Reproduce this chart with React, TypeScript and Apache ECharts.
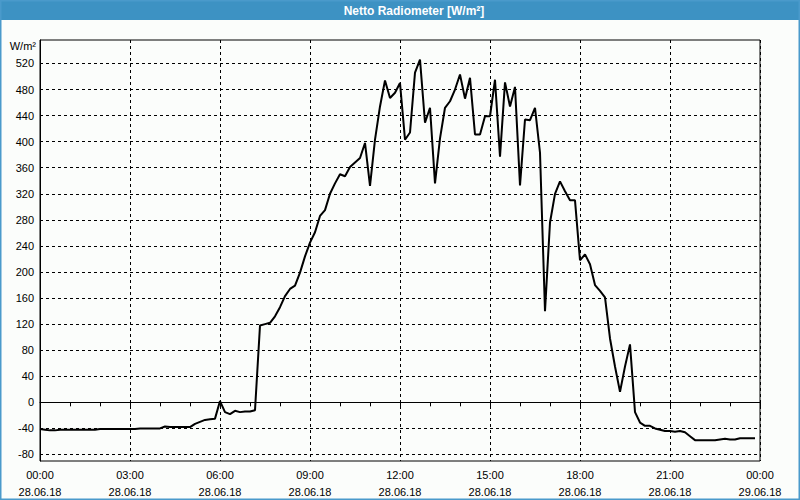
import React, { useEffect, useRef } from "react";
import * as echarts from "echarts";

const TITLE = "Netto Radiometer [W/m²]";
const UNIT = "W/m²";
const SAMPLE_STEP_MIN = 10;

// Net radiation, W/m², one value every 10 minutes from 28.06.18 00:00 to 23:50
const netRadiation = [
  -41, -42, -43, -43, -42, -42, -42, -42, -42, -42, -42, -42,
  -41, -41, -41, -41, -41, -41, -41, -41, -40, -40, -40, -40,
  -40, -37, -38, -38, -38, -38, -38, -33, -30, -27, -26, -25,
  2, -15, -18, -13, -15, -14, -14, -12, 118, 120, 122, 132,
  146, 163, 174, 179, 199, 224, 245, 261, 286, 295, 320, 336,
  350, 347, 361, 368, 375, 398, 332, 403, 454, 494, 467, 475,
  490, 403, 414, 506, 526, 429, 452, 336, 405, 452, 462, 480,
  503, 466, 498, 411, 411, 439, 439, 495, 377, 491, 454, 484,
  333, 434, 433, 452, 383, 140, 276, 320, 339, 324, 310, 310,
  218, 227, 212, 180, 171, 161, 98, 55, 16, 55, 89, -15,
  -31, -36, -36, -40, -42, -44, -44, -45, -44, -46, -52, -58,
  -58, -58, -58, -58, -57, -56, -57, -57, -55, -55, -55, -55,
];

const timeLabels = ["00:00", "03:00", "06:00", "09:00", "12:00", "15:00", "18:00", "21:00", "00:00"];
const dateLabels = ["28.06.18", "28.06.18", "28.06.18", "28.06.18", "28.06.18", "28.06.18", "28.06.18", "28.06.18", "29.06.18"];
const yTickValues = [-80, -40, 0, 40, 80, 120, 160, 200, 240, 280, 320, 360, 400, 440, 480, 520];

const FONT = "Liberation Sans";

export default function App() {
  const ref = useRef<HTMLDivElement>(null);
  useEffect(() => {
    const chart = echarts.init(ref.current!, null, { renderer: "svg" });
    const data = netRadiation.map((v, i) => [(i * SAMPLE_STEP_MIN) / 60, v]);
    chart.setOption({
      animation: false,
      backgroundColor: "#fbfdfb",
      textStyle: { fontFamily: FONT },
      grid: {
        left: 40,
        right: 40,
        top: 40,
        bottom: 38,
        show: true,
        borderColor: "#000",
        borderWidth: 1,
        backgroundColor: "transparent",
      },
      xAxis: {
        type: "value",
        min: 0,
        max: 24,
        interval: 3,
        axisLine: { show: true, lineStyle: { color: "#000", width: 1 } },
        axisTick: { show: true, length: 4, lineStyle: { color: "#000" } },
        minorTick: { show: true, splitNumber: 3, length: 4, lineStyle: { color: "#000" } },
        splitLine: { show: true, lineStyle: { color: "#000", type: [3, 3], width: 1 } },
        axisLabel: {
          fontSize: 11,
          color: "#000",
          fontFamily: FONT,
          lineHeight: 17,
          margin: 5,
          showMinLabel: true,
          showMaxLabel: true,
          formatter: (v: number) => {
            const k = Math.round(v / 3);
            return `${timeLabels[k]}\n${dateLabels[k]}`;
          },
        },
      },
      yAxis: {
        type: "value",
        min: -90,
        max: 556,
        axisLine: { show: true, lineStyle: { color: "#000", width: 1 } },
        axisTick: { show: false, customValues: yTickValues },
        splitLine: { show: true, lineStyle: { color: "#000", type: [3, 3], width: 1 } },
        axisLabel: {
          customValues: yTickValues,
          fontSize: 11,
          color: "#000",
          fontFamily: FONT,
          margin: 6,
        },
      },
      graphic: [
        { type: "rect", shape: { x: 0, y: 0, width: 800, height: 20 }, style: { fill: "#3d92c3" }, z: 10 },
        {
          type: "text",
          x: 414,
          y: 11,
          style: {
            text: TITLE,
            fill: "#fff",
            font: `bold 12px "${FONT}"`,
            textAlign: "center",
            textVerticalAlign: "middle",
          },
          z: 11,
        },
        {
          type: "rect",
          shape: { x: 0.5, y: 0.5, width: 799, height: 499 },
          style: { fill: "none", stroke: "#4a9acb", lineWidth: 2 },
          z: 10,
        },
        {
          type: "text",
          x: 36,
          y: 46,
          style: {
            text: UNIT,
            fill: "#000",
            font: `11px "${FONT}"`,
            textAlign: "right",
            textVerticalAlign: "middle",
          },
        },
      ],
      series: [
        {
          type: "line",
          data,
          showSymbol: false,
          symbol: "none",
          clip: true,
          lineStyle: { color: "#000", width: 2 },
        },
      ],
    });
    return () => chart.dispose();
  }, []);
  return <div ref={ref} style={{ position: "absolute", left: 0, top: 0, width: 800, height: 500 }} />;
}
